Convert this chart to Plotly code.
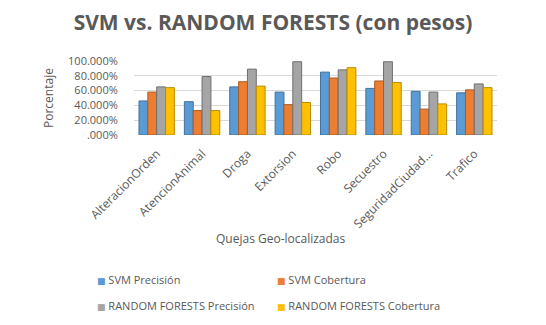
import plotly.graph_objects as go

categories = ["AlteracionOrden", "AtencionAnimal", "Droga", "Extorsion", "Robo",
              "Secuestro", "SeguridadCiudad...", "Trafico"]
svm_precision = [0.46, 0.45, 0.65, 0.58, 0.85, 0.63, 0.59, 0.57]
svm_cobertura = [0.58, 0.33, 0.72, 0.41, 0.77, 0.73, 0.35, 0.61]
rf_precision = [0.65, 0.79, 0.89, 0.99, 0.88, 0.99, 0.58, 0.69]
rf_cobertura = [0.64, 0.33, 0.66, 0.44, 0.91, 0.71, 0.42, 0.64]
y_tickvals = [0, 0.2, 0.4, 0.6, 0.8, 1.0]
y_ticktext = [".000%", "20.000%", "40.000%", "60.000%", "80.000%", "100.000%"]

series_names = ["SVM Precisión", "SVM Cobertura",
                "RANDOM FORESTS Precisión", "RANDOM FORESTS Cobertura"]
series_values = [svm_precision, svm_cobertura, rf_precision, rf_cobertura]
series_colors = ["#5B9BD5", "#ED7D31", "#A5A5A5", "#FFC000"]
series_edges = ["#41719C", "#AE5A21", "#6E6E6E", "#B98C00"]

# The page body adds an 8px offset, so the figure is drawn 8px smaller.
W, H = 538, 317
ML, MR, MT, MB = 126, 49, 53, 190
plot_w = W - ML - MR
plot_h = H - MT - MB

FONT = "Open Sans"
GREY = "#595959"

fig = go.Figure()
for name, vals, col, edge in zip(series_names, series_values, series_colors, series_edges):
    fig.add_trace(go.Bar(
        x=categories, y=vals, name=name, showlegend=False,
        marker=dict(color=col, line=dict(color=edge, width=1)),
    ))

fig.update_layout(
    width=W, height=H,
    paper_bgcolor="white", plot_bgcolor="white",
    margin=dict(l=ML, r=MR, t=MT, b=MB, autoexpand=False),
    barmode="group", bargap=0.22, bargroupgap=0.0,
    font=dict(family=FONT, color=GREY, size=12),
    showlegend=False,
    title=dict(text="<b>SVM vs. RANDOM FORESTS (con pesos)</b>",
               x=265 / W, xanchor="center", y=1 - 15 / H, yanchor="middle",
               font=dict(family=FONT, size=21, color=GREY)),
    xaxis=dict(tickangle=-45, tickfont=dict(size=12, color=GREY),
               showgrid=False, showline=False, ticks="outside", ticklen=6,
               tickcolor="rgba(0,0,0,0)", automargin=False),
    yaxis=dict(range=[0, 1.0], tickvals=y_tickvals, ticktext=y_ticktext,
               tickfont=dict(size=11, color=GREY), showgrid=True,
               gridcolor="#D9D9D9", gridwidth=1, zeroline=False,
               showline=False, ticks="outside", ticklen=13,
               tickcolor="rgba(0,0,0,0)", automargin=False),
)


def px_x(px):
    return (px - ML) / plot_w


def px_y(py):
    return (H - MB - py) / plot_h


fig.add_annotation(text="Porcentaje", textangle=-90, x=px_x(40), xref="paper",
                   xanchor="center", y=0.5, yref="paper",
                   showarrow=False, font=dict(size=12, color=GREY))
fig.add_annotation(text="Quejas Geo-localizadas", x=px_x(273), xref="paper",
                   xanchor="center", y=px_y(230), yref="paper", yanchor="middle",
                   showarrow=False, font=dict(size=12, color=GREY))

# legend (2 x 2 grid), drawn as coloured square + label
legend_slots = [(87, 271), (267, 271), (87, 297), (267, 297)]
for (lx, ly), name, col in zip(legend_slots, series_names, series_colors):
    fig.add_annotation(
        text=f'<span style="color:{col};font-family:DejaVu Sans;font-size:9px">■</span> {name}',
        x=px_x(lx), xref="paper", xanchor="left",
        y=px_y(ly), yref="paper", yanchor="middle",
        showarrow=False, font=dict(size=11, color=GREY))

# dark 3D floor under the bars
fig.add_shape(type="rect", xref="x domain", yref="y", x0=-0.01, x1=1.02,
              y0=-0.035, y1=0.0, fillcolor="#404040", line=dict(width=0), layer="below")

fig.write_html("out.html")
